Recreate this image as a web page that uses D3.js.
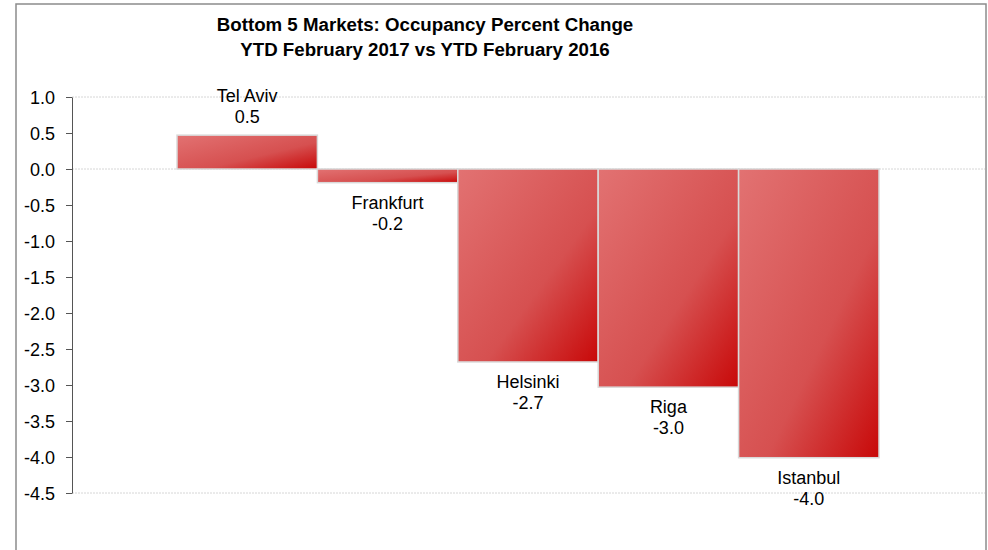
<!DOCTYPE html>
<html>
<head>
<meta charset="utf-8">
<script src="https://cdn.jsdelivr.net/npm/d3@7"></script>
<style>
  body { margin: 0; background: #fff; }
  text { font-family: "Liberation Sans", Arial, sans-serif; }
</style>
</head>
<body>
<div id="chart-area"></div>
<script>
// Data
const markets = ["Tel Aviv", "Frankfurt", "Helsinki", "Riga", "Istanbul"]
const changes = [0.47, -0.19, -2.68, -3.03, -4.01]
const yTicks = [1.0, 0.5, 0.0, -0.5, -1.0, -1.5, -2.0, -2.5, -3.0, -3.5, -4.0, -4.5]
const titleLines = [
    "Bottom 5 Markets: Occupancy Percent Change",
    "YTD February 2017 vs YTD February 2016"
]

const data = markets.map((m, i) => ({ market: m, value: changes[i] }))

// plain hyphen for negatives, like the original
const fmt = d => d.toFixed(1)

const svg = d3.select("#chart-area").append("svg")
    .attr("width", 988)
    .attr("height", 550)

// outer chart border
svg.append("rect")
    .attr("x", 16)
    .attr("y", 4)
    .attr("width", 970)
    .attr("height", 560)
    .attr("fill", "none")
    .attr("stroke", "#8c8c8c")
    .attr("stroke-width", 1.5)

const plotLeft = 72, plotRight = 985

const x = d3.scaleBand()
    .domain(markets)
    .range([177, 879])
    .padding(0)

const y = d3.scaleLinear()
    .domain([-4.5, 1.0])
    .range([493, 97])

// gradient for bars
const grad = svg.append("defs").append("linearGradient")
    .attr("id", "barGrad")
    .attr("x1", 0).attr("y1", 0)
    .attr("x2", 1).attr("y2", 1)
grad.append("stop").attr("offset", "0%").attr("stop-color", "#e27272")
grad.append("stop").attr("offset", "60%").attr("stop-color", "#d65050")
grad.append("stop").attr("offset", "100%").attr("stop-color", "#c80808")

// dotted lines at top, zero and bottom of plot
svg.selectAll(".grid")
    .data([1.0, 0.0, -4.5])
    .enter().append("line")
    .attr("x1", plotLeft)
    .attr("x2", plotRight)
    .attr("y1", d => y(d))
    .attr("y2", d => y(d))
    .attr("stroke", "#d6d6d6")
    .attr("stroke-width", 1)
    .attr("stroke-dasharray", "2,1")

// bars
svg.selectAll(".bar")
    .data(data)
    .enter().append("rect")
    .attr("x", d => x(d.market))
    .attr("width", x.bandwidth())
    .attr("y", d => y(Math.max(0, d.value)))
    .attr("height", d => Math.abs(y(d.value) - y(0)))
    .attr("fill", "url(#barGrad)")
    .attr("stroke", "#d9d9d9")
    .attr("stroke-width", 1.5)

// y axis
const yAxis = d3.axisLeft(y)
    .tickValues(yTicks)
    .tickFormat(fmt)
    .tickSize(6)
    .tickPadding(11)
    .tickSizeOuter(0)

const gy = svg.append("g")
    .attr("transform", `translate(${plotLeft},0)`)
    .call(yAxis)
gy.select(".domain").attr("stroke", "#555")
gy.selectAll(".tick line").attr("stroke", "#555")
gy.selectAll(".tick text")
    .attr("font-family", "Liberation Sans, Arial, sans-serif")
    .attr("font-size", 18)
    .attr("fill", "#000")
    .attr("dy", "0.36em")

// bar labels: name and value
const labels = svg.selectAll(".lbl")
    .data(data)
    .enter().append("text")
    .attr("text-anchor", "middle")
    .attr("font-size", 18)
    .attr("fill", "#000")
    .attr("x", d => x(d.market) + x.bandwidth() / 2)
    .attr("y", d => d.value >= 0 ? y(d.value) - 33 : y(d.value) + 26)

labels.append("tspan").text(d => d.market)
labels.append("tspan")
    .attr("x", d => x(d.market) + x.bandwidth() / 2)
    .attr("dy", 21)
    .text(d => fmt(d.value))

// title
svg.selectAll(".title")
    .data(titleLines)
    .enter().append("text")
    .attr("x", 425)
    .attr("y", (d, i) => 31 + i * 25)
    .attr("text-anchor", "middle")
    .attr("font-size", 18.7)
    .attr("font-weight", "bold")
    .attr("fill", "#000")
    .text(d => d)
</script>
</body>
</html>
